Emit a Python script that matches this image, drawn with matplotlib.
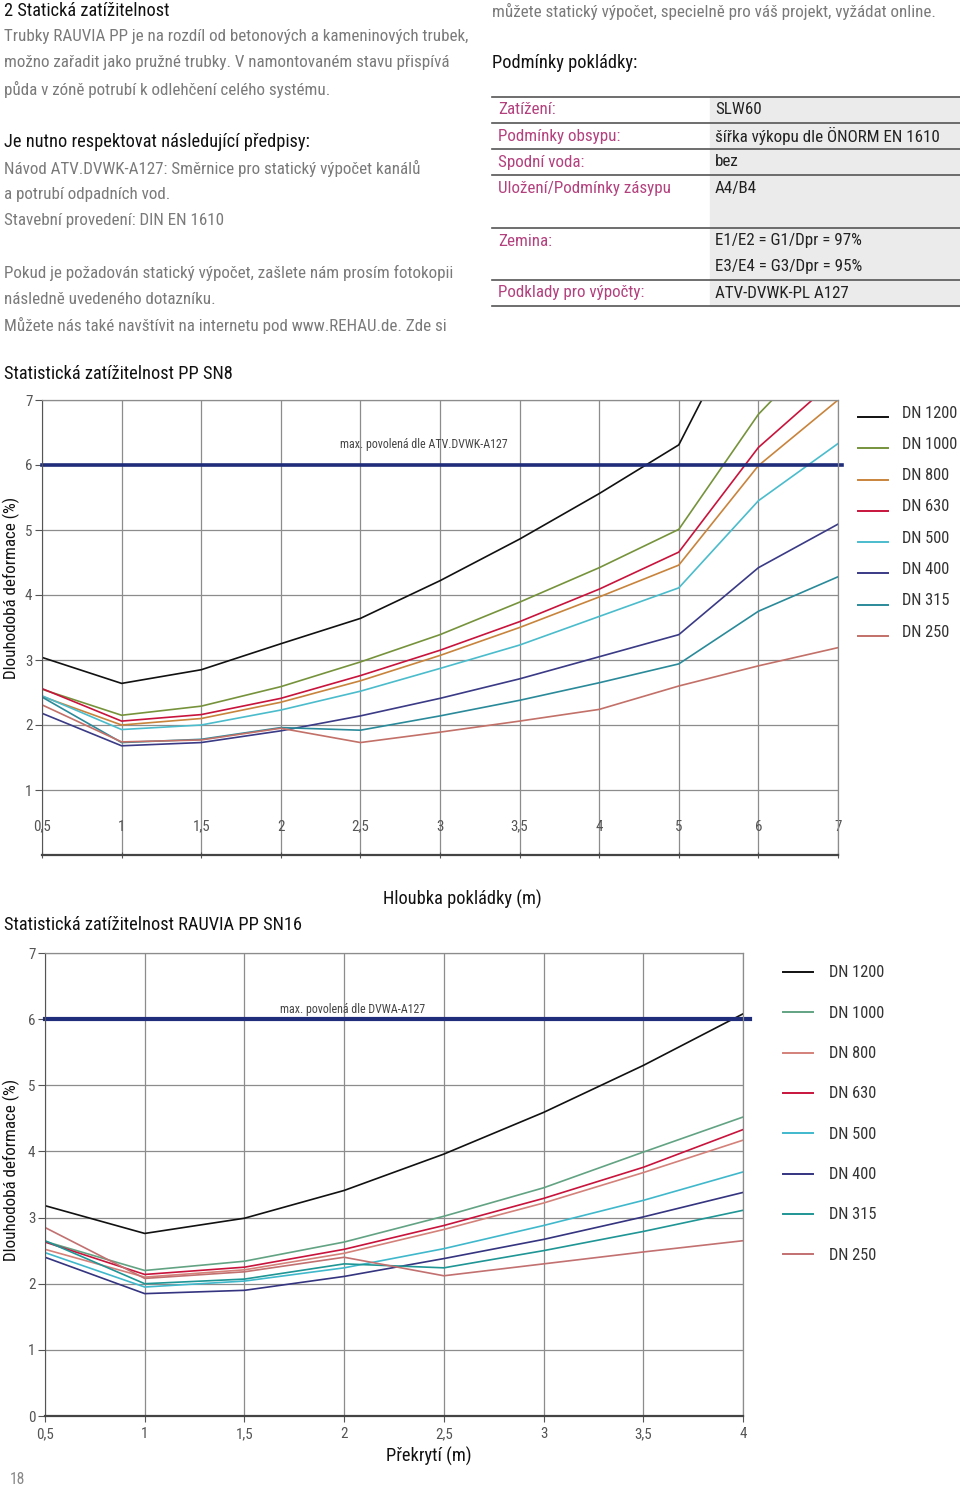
import numpy as np
import matplotlib.pyplot as plt
from matplotlib.lines import Line2D
from matplotlib import font_manager

# Pick the narrowest installed sans
installed = {f.name for f in font_manager.fontManager.ttflist}
for cand in ['Roboto Condensed', 'Liberation Sans Narrow', 'Liberation Sans', 'Roboto']:
    if cand in installed:
        BASE_FONT = cand
        break
else:
    BASE_FONT = 'DejaVu Sans'
plt.rcParams['font.family'] = [BASE_FONT, 'DejaVu Sans']

# ---- data: SN8 (Hloubka pokládky) ----
sn8_xlabels = ['0,5', '1', '1,5', '2', '2,5', '3', '3,5', '4', '5', '6', '7']
sn8_dn1200 = [3.04, 2.64, 2.85, 3.25, 3.64, 4.22, 4.86, 5.56, 6.31, 8.70, 11.0]
sn8_dn1000 = [2.55, 2.15, 2.29, 2.59, 2.97, 3.39, 3.89, 4.42, 5.01, 6.78, 8.05]
sn8_dn800 = [2.44, 2.00, 2.10, 2.35, 2.68, 3.07, 3.50, 3.97, 4.46, 5.99, 7.00]
sn8_dn630 = [2.56, 2.06, 2.16, 2.41, 2.76, 3.15, 3.59, 4.09, 4.66, 6.27, 7.35]
sn8_dn500 = [2.45, 1.93, 2.00, 2.23, 2.52, 2.87, 3.23, 3.67, 4.11, 5.45, 6.33]
sn8_dn400 = [2.18, 1.68, 1.73, 1.91, 2.14, 2.41, 2.71, 3.05, 3.39, 4.42, 5.09]
sn8_dn315 = [2.43, 1.73, 1.78, 1.96, 1.92, 2.14, 2.38, 2.65, 2.94, 3.75, 4.28]
sn8_dn250 = [2.31, 1.74, 1.77, 1.95, 1.73, 1.89, 2.06, 2.24, 2.60, 2.91, 3.19]

# ---- data: SN16 (Překrytí) ----
sn16_x = [0.5, 1, 1.5, 2, 2.5, 3, 3.5, 4]
sn16_xlabels = ['0,5', '1', '1,5', '2', '2,5', '3', '3,5', '4']
sn16_dn1200 = [3.18, 2.76, 2.99, 3.41, 3.96, 4.59, 5.30, 6.08]
sn16_dn1000 = [2.64, 2.20, 2.34, 2.63, 3.02, 3.45, 3.99, 4.52]
sn16_dn800 = [2.52, 2.10, 2.21, 2.46, 2.82, 3.22, 3.68, 4.17]
sn16_dn630 = [2.63, 2.14, 2.25, 2.52, 2.88, 3.29, 3.76, 4.33]
sn16_dn500 = [2.47, 1.95, 2.04, 2.24, 2.53, 2.88, 3.26, 3.69]
sn16_dn400 = [2.40, 1.85, 1.90, 2.11, 2.38, 2.67, 3.01, 3.38]
sn16_dn315 = [2.65, 2.00, 2.07, 2.30, 2.24, 2.50, 2.79, 3.11]
sn16_dn250 = [2.85, 2.08, 2.18, 2.40, 2.12, 2.30, 2.48, 2.65]

names = ['DN 1200', 'DN 1000', 'DN 800', 'DN 630', 'DN 500', 'DN 400', 'DN 315', 'DN 250']
colors1 = ['#111111', '#76933c', '#c8843c', '#c8143c', '#4bbccc', '#3a3a86', '#2a8a9a', '#c27068']
colors2 = ['#111111', '#62a383', '#d4817a', '#c8143c', '#40b8cc', '#343480', '#1f9595', '#c27070']

sn8_series = [sn8_dn1200, sn8_dn1000, sn8_dn800, sn8_dn630, sn8_dn500, sn8_dn400, sn8_dn315, sn8_dn250]
sn16_series = [sn16_dn1200, sn16_dn1000, sn16_dn800, sn16_dn630, sn16_dn500, sn16_dn400, sn16_dn315, sn16_dn250]

W, H = 960, 1489
fig = plt.figure(figsize=(W / 100, H / 100), dpi=100)

# scale all font sizes so the longest body line gets the reference width (463 px)
renderer = fig.canvas.get_renderer()
probe = fig.text(0, 0, 'Trubky RAUVIA PP je na rozdíl od betonových a kameninových trubek,', fontsize=10)
R = 463 / probe.get_window_extent(renderer).width * 10 / 12.5
probe.remove()


def fs(size):
    return size * R


def fx(px):
    return px / W


def fy(py):
    return 1 - py / H


GRAY = '#7a7a7a'
PINK = '#b3417e'

# ---- top-left text ----
fig.text(fx(4), fy(11), '2 Statická zatížitelnost', fontsize=fs(13.5), color='#111', va='center')
left_lines = [
    (37, 'Trubky RAUVIA PP je na rozdíl od betonových a kameninových trubek,', GRAY),
    (63, 'možno zařadit jako pružné trubky. V namontovaném stavu přispívá', GRAY),
    (89, 'půda v zóně potrubí k odlehčení celého systému.', GRAY),
    (142, 'Je nutno respektovat následující předpisy:', '#111'),
    (168, 'Návod ATV.DVWK-A127: Směrnice pro statický výpočet kanálů', GRAY),
    (194, 'a potrubí odpadních vod.', GRAY),
    (220, 'Stavební provedení: DIN EN 1610', GRAY),
    (273, 'Pokud je požadován statický výpočet, zašlete nám prosím fotokopii', GRAY),
    (299, 'následně uvedeného dotazníku.', GRAY),
    (325, 'Můžete nás také navštívit na internetu pod www.REHAU.de. Zde si', GRAY),
]
for y, t, c in left_lines:
    fig.text(fx(4), fy(y), t, fontsize=fs(13.5 if c == '#111' else 12.5), color=c, va='center')

# ---- top-right text and table ----
fig.text(fx(492), fy(11), 'můžete statický výpočet, specielně pro váš projekt, vyžádat online.',
         fontsize=fs(12.5), color=GRAY, va='center')
fig.text(fx(492), fy(63), 'Podmínky pokládky:', fontsize=fs(13.5), color='#111', va='center')

bg = plt.Rectangle((fx(710), fy(306)), fx(960) - fx(710), fy(97) - fy(306),
                   transform=fig.transFigure, color='#ebebeb', zorder=0)
fig.add_artist(bg)
for y in [97, 123, 149, 175, 228, 280, 306]:
    fig.add_artist(Line2D([fx(492), fx(960)], [fy(y), fy(y)], color='#555', lw=1.2))

table_left = ['Zatížení:', 'Podmínky obsypu:', 'Spodní voda:', 'Uložení/Podmínky zásypu',
              'Zemina:', '', 'Podklady pro výpočty:']
table_right = ['SLW60', 'šířka výkopu dle ÖNORM EN 1610', 'bez', 'A4/B4',
               'E1/E2 = G1/Dpr = 97%', 'E3/E4 = G3/Dpr = 95%', 'ATV-DVWK-PL A127']
table_y = [110, 136, 162, 188, 241, 267, 293]
for y, a, b in zip(table_y, table_left, table_right):
    fig.text(fx(498), fy(y), a, fontsize=fs(12.5), color=PINK, va='center')
    fig.text(fx(715), fy(y), b, fontsize=fs(12.5), color='#222', va='center')


def style_axes(ax):
    ax.set_ylim(0, 7)
    ax.set_yticks(range(0, 8))
    ax.grid(True, color='#8c8c8c', lw=0.9)
    ax.set_axisbelow(True)
    for s in ['top', 'right']:
        ax.spines[s].set_color('#8c8c8c')
        ax.spines[s].set_linewidth(0.9)
    ax.spines['left'].set_color('#555')
    ax.spines['bottom'].set_color('#444')
    ax.spines['bottom'].set_linewidth(1.6)
    ax.tick_params(axis='y', length=5, color='#555', labelsize=fs(11), labelcolor='#555', pad=2)


# ---- chart 1: SN8 ----
fig.text(fx(4), fy(374), 'Statistická zatížitelnost PP SN8', fontsize=fs(13.5), color='#111', va='center')
ax1 = fig.add_axes([fx(42), fy(855), fx(838) - fx(42), fy(400) - fy(855)])
idx = np.arange(len(sn8_xlabels))
for vals, c in zip(sn8_series, colors1):
    ax1.plot(idx, vals, color=c, lw=1.2)
ax1.axhline(6, color='#1f2d7a', lw=2.6, xmax=1.005, clip_on=False)
ax1.text(4.8, 6.32, 'max. povolená dle ATV.DVWK-A127', fontsize=fs(8.7), color='#444',
         ha='center', va='center')
ax1.set_xlim(0, len(sn8_xlabels) - 1)
style_axes(ax1)
ax1.set_yticks(range(1, 8))
ax1.set_xticks(idx)
ax1.set_xticklabels(sn8_xlabels)
ax1.tick_params(axis='x', length=5, color='#555', labelsize=fs(11), labelcolor='#555', pad=-28,
                direction='inout')
ax1.set_ylabel('Dlouhodobá deformace (%)', fontsize=fs(12.5), color='#111')
ax1.yaxis.set_label_coords((20 - 42) / 796, (855 - 588) / 455)
fig.text(fx(462), fy(899), 'Hloubka pokládky (m)', fontsize=fs(13.5), color='#111', ha='center', va='center')

for i, (n, c) in enumerate(zip(names, colors1)):
    y = 412 + i * 31.3
    fig.add_artist(Line2D([fx(858), fx(888)], [fy(y + 5), fy(y + 5)], color=c, lw=1.4))
    fig.text(fx(902), fy(y + 1), n, fontsize=fs(12), color='#333', va='center')

# ---- chart 2: SN16 ----
fig.text(fx(4), fy(925), 'Statistická zatížitelnost RAUVIA PP SN16', fontsize=fs(13.5), color='#111', va='center')
ax2 = fig.add_axes([fx(45), fy(1416), fx(743) - fx(45), fy(953) - fy(1416)])
for vals, c in zip(sn16_series, colors2):
    ax2.plot(sn16_x, vals, color=c, lw=1.2)
ax2.axhline(6, color='#1f2d7a', lw=3, xmax=1.01, clip_on=False)
ax2.text(2.04, 6.15, 'max. povolená dle DVWA-A127', fontsize=fs(8.7), color='#444', ha='center', va='center')
ax2.set_xlim(0.5, 4)
style_axes(ax2)
ax2.set_xticks(sn16_x)
ax2.set_xticklabels(sn16_xlabels)
ax2.tick_params(axis='x', length=4, color='#555', labelsize=fs(11), labelcolor='#555', pad=4)
ax2.set_ylabel('Dlouhodobá deformace (%)', fontsize=fs(12.5), color='#111')
ax2.yaxis.set_label_coords((20 - 45) / 698, (1416 - 1170) / 463)
fig.text(fx(429), fy(1456), 'Překrytí (m)', fontsize=fs(13.5), color='#111', ha='center', va='center')

for i, (n, c) in enumerate(zip(names, colors2)):
    y = 972 + i * 40.3
    fig.add_artist(Line2D([fx(783), fx(813)], [fy(y), fy(y)], color=c, lw=1.4))
    fig.text(fx(829), fy(y + 1), n, fontsize=fs(12), color='#333', va='center')

fig.text(fx(10), fy(1480), '18', fontsize=fs(11.5), color='#888', va='center')

fig.savefig('out.png', dpi=100)
